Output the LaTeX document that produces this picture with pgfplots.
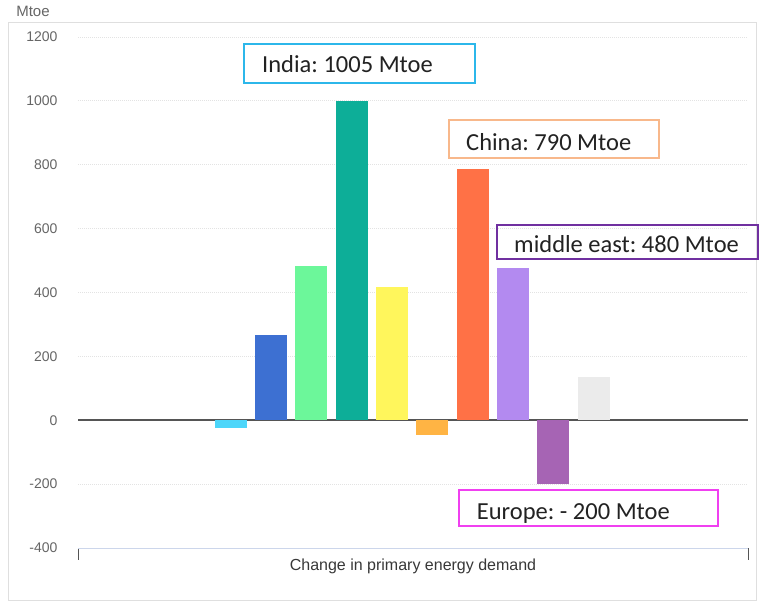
\documentclass[border=0pt]{standalone}
\usepackage{pgfplots}
\pgfplotsset{compat=1.18}
\usepackage{fontspec}
\setmainfont{Liberation Sans}
\newfontfamily\calfont{Carlito}
\frenchspacing
\definecolor{cA}{HTML}{4DD6FA}
\definecolor{cB}{HTML}{3D70D2}
\definecolor{cC}{HTML}{6CF79A}
\definecolor{cD}{HTML}{0DAE98}
\definecolor{cE}{HTML}{FFF65C}
\definecolor{cF}{HTML}{FFB444}
\definecolor{cG}{HTML}{FF7146}
\definecolor{cH}{HTML}{B38AF0}
\definecolor{cI}{HTML}{A664B4}
\definecolor{cJ}{HTML}{EBEBEB}
\definecolor{tickgray}{HTML}{666666}
\definecolor{zerogray}{HTML}{555555}
\definecolor{axisblue}{HTML}{CCD6EB}
\definecolor{indiac}{HTML}{2CB7EA}
\definecolor{chinac}{HTML}{F8B88B}
\definecolor{mec}{HTML}{7030A0}
\definecolor{euc}{HTML}{F040F0}
\definecolor{textdark}{HTML}{222222}
\begin{document}
\begin{tikzpicture}[x=1pt,y=1pt]
\path[use as bounding box, fill=white] (0,0) rectangle (760,604);
\draw[color=gray!25, line width=1pt] (8.5,3.5) rectangle (756.5,581.5);
\node[text=tickgray, font=\fontsize{15}{17}\selectfont] at (33,593) {Mtoe};
\begin{axis}[
  at={(78pt,56pt)}, anchor=south west, scale only axis,
  width=670pt, height=511pt,
  xmin=-3.789, xmax=12.824, ymin=-400, ymax=1200,
  ytick={-400,-200,...,1200},
  xtick={-3.789,12.824}, xticklabels={},
  tick align=outside, tick pos=left,
  major tick length=12pt,
  ytick style={draw=none},
  xtick style={color=zerogray, line width=1pt},
  axis line style={draw=none},
  ymajorgrids,
  grid style={color=gray!22, dash pattern=on 1pt off 1pt, line width=0.8pt},
  yticklabel style={text=tickgray, font=\fontsize{14}{16}\selectfont, anchor=east, xshift=-5pt},
  /pgf/number format/assume math mode=true,
  /pgf/number format/1000 sep={},
  xlabel={Change in primary energy demand},
  xlabel style={at={(rel axis cs:0.5,0)}, anchor=center, yshift=-18pt, text=textdark!90, font=\fontsize{16}{18}\selectfont},
  clip=false,
]
\addplot[zerogray, line width=1.8pt] coordinates {(-3.789,0) (12.824,0)};
\addplot[ybar, bar width=32pt, bar shift=0pt, fill=cA, draw=none] coordinates {(0,-25)};
\addplot[ybar, bar width=32pt, bar shift=0pt, fill=cB, draw=none] coordinates {(1,268)};
\addplot[ybar, bar width=32pt, bar shift=0pt, fill=cC, draw=none] coordinates {(2,483)};
\addplot[ybar, bar width=32pt, bar shift=0pt, fill=cD, draw=none] coordinates {(3,1000)};
\addplot[ybar, bar width=32pt, bar shift=0pt, fill=cE, draw=none] coordinates {(4,418)};
\addplot[ybar, bar width=32pt, bar shift=0pt, fill=cF, draw=none] coordinates {(5,-46)};
\addplot[ybar, bar width=32pt, bar shift=0pt, fill=cG, draw=none] coordinates {(6,787)};
\addplot[ybar, bar width=32pt, bar shift=0pt, fill=cH, draw=none] coordinates {(7,477)};
\addplot[ybar, bar width=32pt, bar shift=0pt, fill=cI, draw=none] coordinates {(8,-199)};
\addplot[ybar, bar width=32pt, bar shift=0pt, fill=cJ, draw=none] coordinates {(9,136)};
\draw[axisblue, line width=0.8pt] (rel axis cs:0,0) -- (rel axis cs:1,0);
\end{axis}
\draw[indiac, line width=1.5pt] (244,521) rectangle (475,560);
\node[anchor=base west, inner sep=0pt, text=textdark, font=\calfont\fontsize{24.5}{28}\selectfont] at (262,531.3) {India: 1005 Mtoe};
\draw[chinac, line width=1.5pt] (449,446) rectangle (659,484);
\node[anchor=base west, inner sep=0pt, text=textdark, font=\calfont\fontsize{24.5}{28}\selectfont] at (466,453) {China: 790 Mtoe};
\draw[mec, line width=1.5pt] (497,345) rectangle (758,379);
\node[anchor=base west, inner sep=0pt, text=textdark, font=\calfont\fontsize{24.5}{28}\selectfont] at (514,351.7) {middle east: 480 Mtoe};
\draw[euc, line width=1.5pt] (459,78) rectangle (718,114);
\node[anchor=base west, inner sep=0pt, text=textdark, font=\calfont\fontsize{24.5}{28}\selectfont] at (476.7,84.7) {Europe: - 200 Mtoe};
\end{tikzpicture}
\end{document}
